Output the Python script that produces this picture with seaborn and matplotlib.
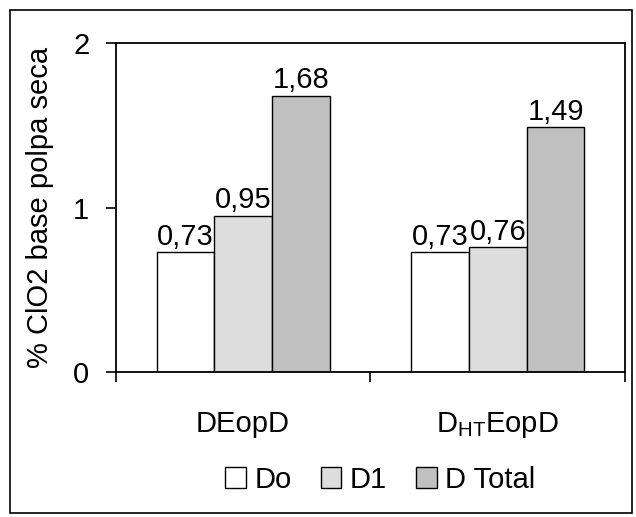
import pandas as pd
import seaborn as sns
import matplotlib.pyplot as plt
from matplotlib.patches import Rectangle
from matplotlib.ticker import FixedLocator

# data
sequences = ["DEopD", "D$_{HT}$EopD"]
stages = ["Do", "D1", "D Total"]
do_vals = [0.73, 0.73]
d1_vals = [0.95, 0.76]
total_vals = [1.68, 1.49]
stage_colors = ["#ffffff", "#dddddd", "#c0c0c0"]

rows = []
for i, seq in enumerate(sequences):
    for stage, vals in zip(stages, [do_vals, d1_vals, total_vals]):
        rows.append({"seq": seq, "stage": stage, "value": vals[i]})
df = pd.DataFrame(rows)

sns.set_style("white")
plt.rcParams["font.family"] = ["Liberation Sans", "DejaVu Sans"]
plt.rcParams["mathtext.default"] = "regular"
plt.rcParams["text.color"] = "black"
plt.rcParams["axes.labelcolor"] = "black"

FS = 21

fig = plt.figure(figsize=(6.36, 5.17), dpi=100)
ax = fig.add_axes([0.182, 0.280, 0.801, 0.637])

sns.barplot(data=df, x="seq", y="value", hue="stage", order=sequences,
            hue_order=stages, palette=stage_colors, width=0.68,
            edgecolor="black", linewidth=1, saturation=1, ax=ax, legend=True)

for cont in ax.containers:
    ax.bar_label(cont, labels=[f"{v:.2f}".replace(".", ",") for v in cont.datavalues],
                 fontsize=FS, padding=1)

ax.set_ylim(0, 2)
ax.set_xlim(-0.5, 1.5)
ax.set_yticks([0, 1, 2])
ax.tick_params(axis="y", direction="out", length=7, width=1.2, labelsize=FS,
               left=True, pad=12, colors="black")
ax.tick_params(axis="x", which="major", length=0, labelsize=FS, pad=27,
               colors="black")
ax.xaxis.set_minor_locator(FixedLocator([-0.5, 0.5, 1.5]))
ax.tick_params(axis="x", which="minor", direction="out", length=7, width=1.2,
               bottom=True, colors="black")
ax.set_xlabel("")
ax.set_ylabel("% ClO2 base polpa seca", fontsize=21, labelpad=14, color="black")
for sp in ax.spines.values():
    sp.set_visible(True)
    sp.set_color("black")
    sp.set_linewidth(1.3)

handles, labels = ax.get_legend_handles_labels()
ax.get_legend().remove()
fig.legend(handles, labels, loc="center", bbox_to_anchor=(0.598, 0.072), ncol=3,
           frameon=False, fontsize=FS, handlelength=0.7, handleheight=0.7,
           handletextpad=0.3, columnspacing=1.0)

fig.patches.append(Rectangle((0.0157, 0.0077), 0.978, 0.973, transform=fig.transFigure,
                             fill=False, edgecolor="black", linewidth=1.2))

fig.savefig("out.png", dpi=100)
plt.close(fig)
